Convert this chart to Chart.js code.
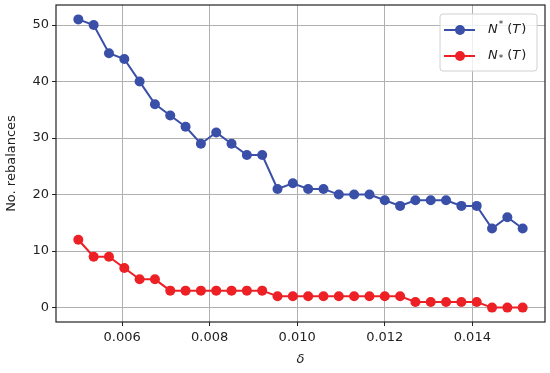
<!DOCTYPE html>
<html>
<head>
<meta charset="utf-8">
<script src="https://cdn.jsdelivr.net/npm/chart.js@4/dist/chart.umd.min.js"></script>
<style>
  html, body { margin: 0; padding: 0; background: #fff; }
  #wrap { width: 550px; height: 373px; }
</style>
</head>
<body>
<div id="wrap"><canvas id="chart" width="550" height="373"></canvas></div>
<script>
// delta values (x)
const deltas = [
    0.00500, 0.00535, 0.00570, 0.00605, 0.00640, 0.00675, 0.00710, 0.00745, 0.00780, 0.00815,
    0.00850, 0.00885, 0.00920, 0.00955, 0.00990, 0.01025, 0.01060, 0.01095, 0.01130, 0.01165,
    0.01200, 0.01235, 0.01270, 0.01305, 0.01340, 0.01375, 0.01410, 0.01445, 0.01480, 0.01515
];
// N^*(T)
const nUpper = [51, 50, 45, 44, 40, 36, 34, 32, 29, 31, 29, 27, 27, 21, 22, 21, 21, 20, 20, 20,
                19, 18, 19, 19, 19, 18, 18, 14, 16, 14];
// N_*(T)
const nLower = [12, 9, 9, 7, 5, 5, 3, 3, 3, 3, 3, 3, 3, 2, 2, 2, 2, 2, 2, 2,
                2, 2, 1, 1, 1, 1, 1, 0, 0, 0];
const xTicks = [0.006, 0.008, 0.010, 0.012, 0.014];
const yTicks = [0, 10, 20, 30, 40, 50];

const BLUE = 'rgb(57, 79, 168)';
const RED = 'rgb(237, 32, 38)';
const FONT = 'DejaVu Sans';

const toPoints = (ys) => ys.map((y, i) => ({ x: deltas[i], y: y }));

// frame around the plot area (matplotlib style)
const framePlugin = {
    id: 'frame',
    afterDatasetsDraw(chart) {
        const { ctx, chartArea: a } = chart;
        ctx.save();
        ctx.strokeStyle = '#222';
        ctx.lineWidth = 1.2;
        ctx.strokeRect(a.left, a.top, a.right - a.left, a.bottom - a.top);
        ctx.restore();
    }
};

// legend drawn inside the plot area, upper right
const legendPlugin = {
    id: 'innerLegend',
    afterDraw(chart) {
        const { ctx, chartArea: a } = chart;
        const bx = a.right - 105, by = a.top + 9, bw = 97, bh = 57;
        ctx.save();
        ctx.beginPath();
        ctx.roundRect(bx, by, bw, bh, 3);
        ctx.fillStyle = 'rgba(255,255,255,0.8)';
        ctx.fill();
        ctx.strokeStyle = '#d0d0d0';
        ctx.lineWidth = 1;
        ctx.stroke();

        const rows = [
            { color: BLUE, y: by + 16, sup: true },
            { color: RED, y: by + 42, sup: false }
        ];
        rows.forEach(r => {
            ctx.strokeStyle = r.color;
            ctx.lineWidth = 2;
            ctx.beginPath();
            ctx.moveTo(bx + 4, r.y);
            ctx.lineTo(bx + 35, r.y);
            ctx.stroke();
            ctx.fillStyle = r.color;
            ctx.beginPath();
            ctx.arc(bx + 20, r.y, 5, 0, Math.PI * 2);
            ctx.fill();

            ctx.fillStyle = '#222';
            ctx.textBaseline = 'middle';
            let x = bx + 48;
            ctx.font = 'italic 13px ' + FONT;
            ctx.fillText('N', x, r.y);
            x += ctx.measureText('N').width + 1;
            ctx.font = '9px ' + FONT;
            ctx.fillText('*', x, r.sup ? r.y - 5 : r.y + 3);
            x += ctx.measureText('*').width + 4;
            ctx.font = '13px ' + FONT;
            ctx.fillText('(', x, r.y);
            x += ctx.measureText('(').width;
            ctx.font = 'italic 13px ' + FONT;
            ctx.fillText('T', x, r.y);
            x += ctx.measureText('T').width + 1;
            ctx.font = '13px ' + FONT;
            ctx.fillText(')', x, r.y);
        });
        ctx.restore();
    }
};

const ctx = document.getElementById('chart').getContext('2d');
new Chart(ctx, {
    type: 'line',
    data: {
        datasets: [
            {
                label: 'N^*(T)',
                data: toPoints(nUpper),
                borderColor: BLUE,
                backgroundColor: BLUE,
                borderWidth: 2,
                pointRadius: 5,
                pointBorderWidth: 0,
                tension: 0
            },
            {
                label: 'N_*(T)',
                data: toPoints(nLower),
                borderColor: RED,
                backgroundColor: RED,
                borderWidth: 2,
                pointRadius: 5,
                pointBorderWidth: 0,
                tension: 0
            }
        ]
    },
    options: {
        responsive: false,
        animation: false,
        layout: { padding: { left: 0, right: 3, top: 5, bottom: 0 } },
        plugins: {
            legend: { display: false },
            tooltip: { enabled: false }
        },
        scales: {
            x: {
                type: 'linear',
                min: 0.00449,
                max: 0.01566,
                afterBuildTicks: (scale) => { scale.ticks = xTicks.map(v => ({ value: v })); },
                afterFit: (scale) => {
                    scale.height = 51;
                    scale.paddingLeft = 0;
                    scale.paddingRight = 0;
                },
                border: { display: false },
                grid: { color: '#b0b0b0', lineWidth: 1, tickLength: 4, tickColor: '#222' },
                ticks: {
                    color: '#222',
                    padding: 4,
                    maxRotation: 0,
                    font: { family: FONT, size: 13 },
                    callback: (v) => v.toFixed(3)
                },
                title: {
                    display: true,
                    text: 'δ',
                    color: '#222',
                    padding: { top: 2, bottom: 6 },
                    font: { family: FONT, size: 13, style: 'italic' }
                }
            },
            y: {
                min: -2.55,
                max: 53.55,
                afterBuildTicks: (scale) => { scale.ticks = yTicks.map(v => ({ value: v })); },
                afterFit: (scale) => {
                    scale.width = 56;
                    scale.paddingTop = 0;
                    scale.paddingBottom = 0;
                },
                border: { display: false },
                grid: { color: '#b0b0b0', lineWidth: 1, tickLength: 4, tickColor: '#222' },
                ticks: {
                    color: '#222',
                    padding: 3,
                    font: { family: FONT, size: 13 }
                },
                title: {
                    display: true,
                    text: 'No. rebalances',
                    color: '#222',
                    padding: { top: 4, bottom: 4 },
                    font: { family: FONT, size: 13 }
                }
            }
        }
    },
    plugins: [framePlugin, legendPlugin]
});
</script>
</body>
</html>
